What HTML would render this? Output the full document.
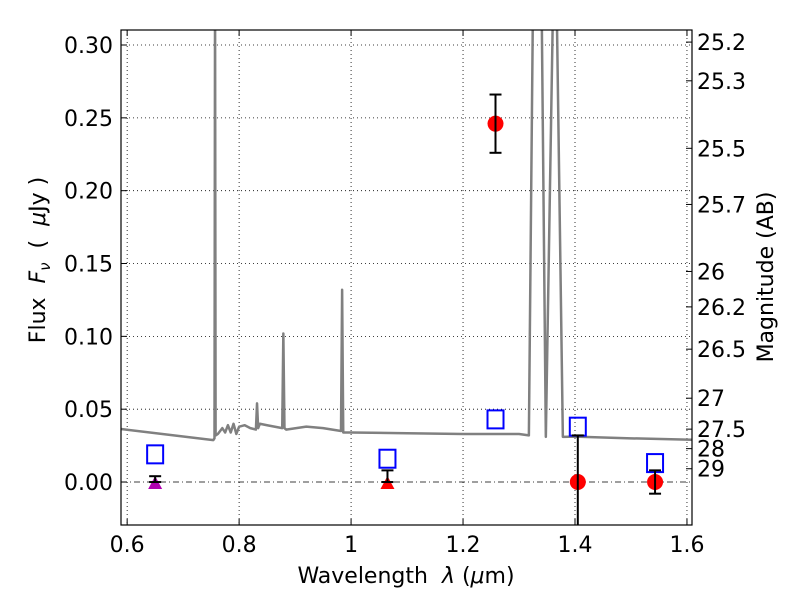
<!DOCTYPE html>
<html><head><meta charset="utf-8"><style>
body{margin:0;background:#fff;width:800px;height:600px;overflow:hidden}
svg text{font-family:"DejaVu Sans","Liberation Sans",sans-serif;fill:#000}
</style></head><body>
<svg id="c" width="800" height="600"></svg>
<script>
const specLam=[0.589,0.754,0.756,0.757,0.758,0.762,0.77,0.775,0.78,0.785,0.79,0.795,0.80,0.81,0.82,0.83,0.832,0.834,0.837,0.85,0.877,0.879,0.881,0.884,0.92,0.95,0.982,0.984,0.986,0.989,1.0,1.1,1.2,1.3,1.3176,1.3247,1.3406,1.3479,1.3604,1.3676,1.3783,1.4,1.5,1.609];
const specFlux=[0.0364,0.0288,0.0300,0.34,0.032,0.033,0.037,0.034,0.039,0.034,0.040,0.033,0.038,0.039,0.037,0.036,0.054,0.037,0.040,0.039,0.037,0.102,0.037,0.036,0.038,0.037,0.035,0.132,0.034,0.034,0.034,0.0335,0.033,0.033,0.032,0.32,0.32,0.031,0.32,0.32,0.031,0.0312,0.030,0.029];
const sqLam=[0.65,1.065,1.258,1.405,1.543];
const sqFlux=[0.019,0.016,0.043,0.038,0.013];
const ptLam=[1.258,1.405,1.543];
const ptFlux=[0.246,0.0,0.0];
const ptErrLo=[0.020,0.06,0.008];
const ptErrHi=[0.020,0.032,0.008];
const triLam=[0.65,1.065];
const triFlux=[0.0,0.0];
const triErrHi=[0.004,0.008];
const triColor=['#b000b0','#ff0000'];
const xTicks=[0.6,0.8,1.0,1.2,1.4,1.6];
const xLabels=['0.6','0.8','1','1.2','1.4','1.6'];
const yTicks=[0,0.05,0.10,0.15,0.20,0.25,0.30];
const yLabels=['0.00','0.05','0.10','0.15','0.20','0.25','0.30'];
const magTicks=[25.2,25.3,25.5,25.7,26,26.2,26.5,27,27.5,28,29];
const L=121,R=692,T=30,B=525,x0=0.589,x1=1.609,y0=-0.0295,y1=0.3103;
const X=v=>L+(v-x0)/(x1-x0)*(R-L);
const Y=v=>B-(v-y0)/(y1-y0)*(B-T);
const svg=document.getElementById('c');const NS='http://www.w3.org/2000/svg';
function mk(t,a,p){const e=document.createElementNS(NS,t);for(const k in a)e.setAttribute(k,a[k]);(p||svg).appendChild(e);return e;}
const defs=mk('defs',{});const cp=mk('clipPath',{id:'cl'},defs);mk('rect',{x:L,y:T,width:R-L,height:B-T},cp);
const g=mk('g',{'clip-path':'url(#cl)'});
xTicks.forEach((v,i)=>{const l=mk('line',{x1:X(v),x2:X(v),y1:T,y2:B,stroke:'#000','stroke-width':0.8,'stroke-dasharray':'1,3'},g);

mk('line',{x1:X(v),x2:X(v),y1:B,y2:B-6,stroke:'#000'});mk('line',{x1:X(v),x2:X(v),y1:T,y2:T+6,stroke:'#000'});
const t=mk('text',{x:X(v),y:B+27,'font-size':22,'text-anchor':'middle'});t.textContent=xLabels[i];
});
yTicks.forEach((v,i)=>{if(v!==0){const l=mk('line',{x1:L,x2:R,y1:Y(v),y2:Y(v),stroke:'#000','stroke-width':0.8,'stroke-dasharray':'1,3'},g);
}
mk('line',{x1:L,x2:L+6,y1:Y(v),y2:Y(v),stroke:'#000'});
const t=mk('text',{x:L-8,y:Y(v)+8,'font-size':22,'text-anchor':'end'});t.textContent=yLabels[i];
});
const zl=mk('line',{x1:L,x2:R,y1:Y(0),y2:Y(0),stroke:'#000','stroke-width':0.8,'stroke-dasharray':'6,3,1,3'},g);

magTicks.forEach(m=>{const f=Math.pow(10,(23.9-m)/2.5);const y=Y(f);
mk('line',{x1:R,x2:R-6,y1:y,y2:y,stroke:'#000'});
const t=mk('text',{x:R+5,y:y+8,'font-size':22});t.textContent=String(m);
});
const sp=mk('polyline',{points:specLam.map((v,i)=>X(v)+','+Y(specFlux[i])).join(' '),fill:'none',stroke:'#808080','stroke-width':2.5,'stroke-linejoin':'round'},g);

sqLam.forEach((v,i)=>{const r=mk('rect',{x:X(v)-8,y:Y(sqFlux[i])-9,width:16,height:18,fill:'none',stroke:'#0000ff','stroke-width':2},g);
});
function eb(x,yl,yh){mk('line',{x1:x,x2:x,y1:yl,y2:yh,stroke:'#000','stroke-width':2},g);
[yl,yh].forEach(y=>mk('line',{x1:x-6,x2:x+6,y1:y,y2:y,stroke:'#000','stroke-width':2},g));}
triLam.forEach((v,i)=>{const x=X(v),y=Y(triFlux[i]);
const p=mk('polygon',{points:`${x-7},${y+7} ${x+7},${y+7} ${x},${y-6}`,fill:triColor[i]},g);

eb(x,y,Y(triErrHi[i]));});
ptLam.forEach((v,i)=>{const x=X(v),y=Y(ptFlux[i]);
const c=mk('circle',{cx:x,cy:y,r:8,fill:'#ff0000'},g);

eb(x,Y(ptFlux[i]-ptErrLo[i]),Y(ptFlux[i]+ptErrHi[i]));});
const fr=mk('rect',{x:L,y:T,width:R-L,height:B-T,fill:'none',stroke:'#000','stroke-width':1.2});

const xt=mk('text',{x:406,y:583,'font-size':22,'text-anchor':'middle',style:'white-space:pre'});xt.innerHTML='Wavelength  <tspan font-style="italic">λ</tspan> (<tspan font-style="italic">μ</tspan>m)';

const yt=mk('text',{x:0,y:0,'font-size':22,'text-anchor':'middle',style:'white-space:pre',transform:'translate(45,260) rotate(-90)'});yt.innerHTML='Flux  <tspan font-style="italic">F</tspan><tspan font-style="italic" font-size="15" dy="5">ν</tspan><tspan dy="-5">  (  </tspan><tspan font-style="italic">μ</tspan>Jy )';

const mt=mk('text',{x:0,y:0,'font-size':22,'text-anchor':'middle',transform:'translate(773,277) rotate(-90)'});mt.textContent='Magnitude (AB)';

</script></body></html>
